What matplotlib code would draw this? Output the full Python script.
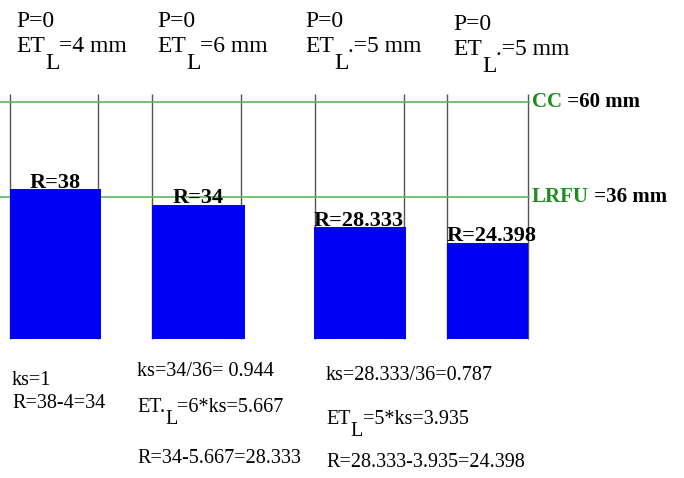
import matplotlib
matplotlib.use('Agg')
import matplotlib.pyplot as plt
from matplotlib.transforms import IdentityTransform

# data
r_values = [38, 34, 28.333, 24.398]
r_labels = ['R=38', 'R=34', 'R=28.333', 'R=24.398']
cc_level = 60
lrfu_level = 36
head_p = ['P=0', 'P=0', 'P=0', 'P=0']
head_et_tail = ['=4 mm', '=6 mm', '.=5 mm', '.=5 mm']
notes_col1 = ['ks=1', 'R=38-4=34']
notes_col2 = ['ks=34/36= 0.944', '=6*ks=5.667', 'R=34-5.667=28.333']
notes_col3 = ['ks=28.333/36=0.787', '=5*ks=3.935', 'R=28.333-3.935=24.398']

# layout (pixels)
W, H = 684, 478
base_px = 339       # pixel row of the bar bottoms
scale = 3.95        # pixels per mm
bar_left = [10, 152, 314, 447]
bar_width = [91, 93, 92, 81]
tube_walls = [10, 98, 152, 241, 315, 404, 447, 528]
tube_top = 62
line_end = 530
label_ha = ['center', 'center', 'left', 'left']

serif = 'Liberation Serif'
green_line = '#5cb85c'
green_text = '#1e8c1e'
blue = '#0000f5'

fig = plt.figure(figsize=(W / 100, H / 100), dpi=100)
ax = fig.add_axes([0, 0, 1, 1])
ax.set_xlim(0, W)
ax.set_ylim(-(H - base_px) / scale, base_px / scale)
ax.axis('off')

renderer = fig.canvas.get_renderer()
pix = IdentityTransform()


def put(x, y, s, **kw):
    # y measured from the top of the picture, baseline aligned
    return fig.text(x, H - y, s, transform=pix, va='baseline', **kw)


def width_of(t):
    return t.get_window_extent(renderer).width


def et_line(x, y, tail, size, drop, head='ET'):
    t1 = put(x, y, head, fontsize=size, family=serif)
    w1 = width_of(t1)
    t2 = put(x + w1, y + drop, 'L', fontsize=size, family=serif)
    w2 = width_of(t2)
    put(x + w1 + w2, y, tail, fontsize=size, family=serif)


# tubes and reference lines
ax.vlines(tube_walls, 0, tube_top, color='#555555', lw=1.0, zorder=1)
ax.hlines([cc_level, lrfu_level], 0, line_end, color=green_line, lw=1.2, zorder=2)

# bars
ax.bar(bar_left, r_values, width=bar_width, align='edge', color=blue, zorder=3)
for i, (v, lab) in enumerate(zip(r_values, r_labels)):
    x = bar_left[i] + (bar_width[i] / 2 if label_ha[i] == 'center' else 0)
    ax.annotate(lab, (x, v), xytext=(0, 1), textcoords='offset points',
                ha=label_ha[i], va='baseline', fontsize=16, fontweight='bold',
                family=serif, zorder=4)

# level labels
for lvl, name, rest in [(cc_level, 'CC', ' =60 mm'), (lrfu_level, 'LRFU', ' =36 mm')]:
    t = ax.annotate(name, (line_end + 2, lvl), va='center', ha='left', fontsize=15,
                    fontweight='bold', family=serif, color=green_text)
    w = width_of(t)
    ax.annotate(rest, (line_end + 2, lvl), xytext=(w * 72 / 100, 0),
                textcoords='offset points', va='center', ha='left', fontsize=15,
                fontweight='bold', family=serif, color='black')

# header texts
head_x = [16, 157, 305, 453]
head_dy = [0, 0, 0, 3]
for i in range(4):
    put(head_x[i], 27 + head_dy[i], head_p[i], fontsize=17, family=serif)
    et_line(head_x[i], 52 + head_dy[i], head_et_tail[i], 17, 17)

# calculation notes
put(12, 385, notes_col1[0], fontsize=14.5, family=serif)
put(12, 408, notes_col1[1], fontsize=14.5, family=serif)

put(137, 376, notes_col2[0], fontsize=14.5, family=serif)
et_line(137, 412, notes_col2[1], 14.5, 12, head='ET.')
put(137, 463, notes_col2[2], fontsize=14.5, family=serif)

put(326, 380, notes_col3[0], fontsize=14.5, family=serif)
et_line(326, 424, notes_col3[1], 14.5, 12)
put(326, 467, notes_col3[2], fontsize=14.5, family=serif)

fig.savefig('out.png', dpi=100)
